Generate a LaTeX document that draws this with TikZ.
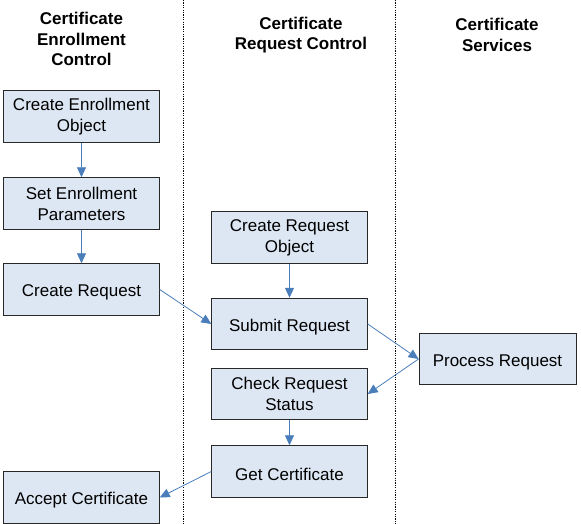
\documentclass[tikz,border=0pt]{standalone}
\usepackage{fontspec}
\setmainfont{Liberation Sans}
\usetikzlibrary{arrows.meta}
\definecolor{boxfill}{RGB}{221,231,243}
\definecolor{arrowblue}{RGB}{74,126,187}
\definecolor{boxline}{RGB}{40,40,40}
\newcommand{\lowerstrut}{\rule{0pt}{18pt}}
\begin{document}
\begin{tikzpicture}[x=1pt,y=-1pt,
  stepbox/.style={draw=boxline,line width=0.9pt,fill=boxfill,minimum width=155.5pt,minimum height=51.5pt,align=center,inner sep=2pt,
    font=\fontsize{17}{21}\selectfont},
  header/.style={align=center,font=\fontsize{17}{20.5}\selectfont\bfseries},
  flow/.style={draw=arrowblue,line width=0.8pt,-{Triangle[length=10pt,width=9pt]}},
  lane/.style={draw=black,line width=1.2pt,dash pattern=on 1.2pt off 1.2pt}]
\useasboundingbox (0,0) rectangle (581,524);
% lanes
\coordinate (l1t) at (183.5,0);
\coordinate (l1b) at (183.5,524);
\coordinate (l2t) at (395.5,0);
\coordinate (l2b) at (395.5,524);
\draw[lane] (l1t) -- (l1b);
\draw[lane] (l2t) -- (l2b);
% headers
\node[header] (h1) at (81.5,39) {Certificate\\Enrollment\\Control};
\node[header] (h2) at (301,35) {Certificate\\Request Control};
\node[header] (h3) at (497,35) {Certificate\\Services};
% boxes
\node[stepbox] (ceo) at (81.5,116.5) {Create Enrollment\\Object};
\node[stepbox] (sep) at (81.5,203.5) {Set Enrollment\\Parameters};
\node[stepbox] (cr) at (81.5,289.5) {\lowerstrut Create Request};
\node[stepbox] (ac) at (81.5,497.5) {\lowerstrut Accept Certificate};
\node[stepbox] (cro) at (289.5,237.5) {Create Request\\Object};
\node[stepbox] (sr) at (289.5,324) {\lowerstrut Submit Request};
\node[stepbox] (crs) at (289.5,394) {Check Request\\Status};
\node[stepbox] (gc) at (289.5,471.5) {\lowerstrut Get Certificate};
\node[stepbox,minimum width=157pt] (pr) at (497.5,359) {\lowerstrut Process Request};
% arrows
\draw[flow] (ceo) -- (sep);
\draw[flow] (sep) -- (cr);
\draw[flow] (cro) -- (sr);
\draw[flow] (cr.east) -- (sr.west);
\draw[flow] (sr.east) -- (pr.west);
\draw[flow] (pr.west) -- (crs.east);
\draw[flow] (crs) -- (gc);
\draw[flow] (gc.west) -- (ac.east);
\end{tikzpicture}
\end{document}
